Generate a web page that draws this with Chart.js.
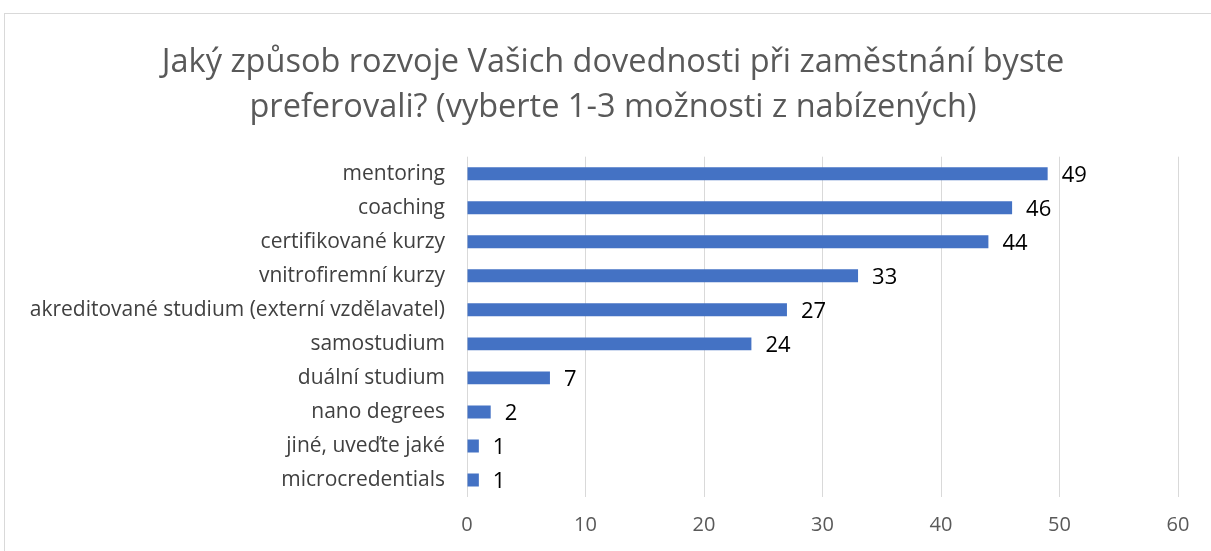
<!DOCTYPE html>
<html><head><meta charset="utf-8">
<script src="https://cdn.jsdelivr.net/npm/chart.js@4/dist/chart.umd.min.js"></script>
<style>
html,body{margin:0;padding:0;background:#fff;overflow:hidden}
#frame{position:absolute;left:4px;top:13px;width:1400px;height:800px;border:1px solid #d9d9d9;box-sizing:border-box}
#wrap{position:absolute;left:0;top:0;width:1226px;height:551px}
</style></head><body>
<div id="frame"></div>
<div id="wrap"><canvas id="c" width="1226" height="551"></canvas></div>
<script>
const categories = ["mentoring","coaching","certifikované kurzy","vnitrofiremní kurzy","akreditované studium (externí vzdělavatel)","samostudium","duální studium","nano degrees","jiné, uveďte jaké","microcredentials"];
const values = [49,46,44,33,27,24,7,2,1,1];
const xTicks = [0,10,20,30,40,50,60];
const titleLines = ["Jaký způsob rozvoje Vašich dovednosti při zaměstnání byste","preferovali? (vyberte 1-3 možnosti z nabízených)"];
const FONT = "'Open Sans', Lato, sans-serif";

const labelPlugin = {
  id:'barLabels',
  afterDatasetsDraw(chart){
    const ctx = chart.ctx;
    const meta = chart.getDatasetMeta(0);
    ctx.save();
    ctx.font = "22px " + FONT;
    ctx.fillStyle = "#000";
    ctx.textAlign = "left";
    ctx.textBaseline = "middle";
    meta.data.forEach((el,i)=>{
      ctx.fillText(String(values[i]), el.x + 14, el.y + 2);
    });
    ctx.restore();
  }
};

new Chart(document.getElementById('c'),{
  type:'bar',
  data:{labels:categories,datasets:[{data:values,backgroundColor:'#4472C4',borderWidth:0,barPercentage:0.38,categoryPercentage:1}]},
  options:{
    indexAxis:'y',
    responsive:false,
    animation:false,
    layout:{padding:0},
    plugins:{
      legend:{display:false},
      tooltip:{enabled:false},
      title:{display:true,text:titleLines,color:'#595959',font:{family:FONT,size:32.5,weight:'normal',lineHeight:1.38},padding:{top:40,bottom:27}}
    },
    scales:{
      x:{min:0,max:60,
        afterBuildTicks(s){s.ticks = xTicks.map(v=>({value:v}));},
        afterFit(s){s.height = 54;},
        grid:{color:'#d9d9d9',lineWidth:1,drawTicks:false},
        border:{display:false},
        ticks:{color:'#595959',font:{family:FONT,size:20},padding:16}
      },
      y:{
        afterFit(s){s.width = 467;},
        grid:{display:false,drawTicks:false},
        border:{display:false},
        ticks:{color:'#404040',font:{family:FONT,size:21},padding:22}
      },
      yRight:{
        type:'category',
        position:'right',
        afterFit(s){s.width = 48;},
        grid:{display:false,drawTicks:false},
        border:{display:false},
        ticks:{display:false}
      }
    }
  },
  plugins:[labelPlugin]
});
</script>
</body></html>
